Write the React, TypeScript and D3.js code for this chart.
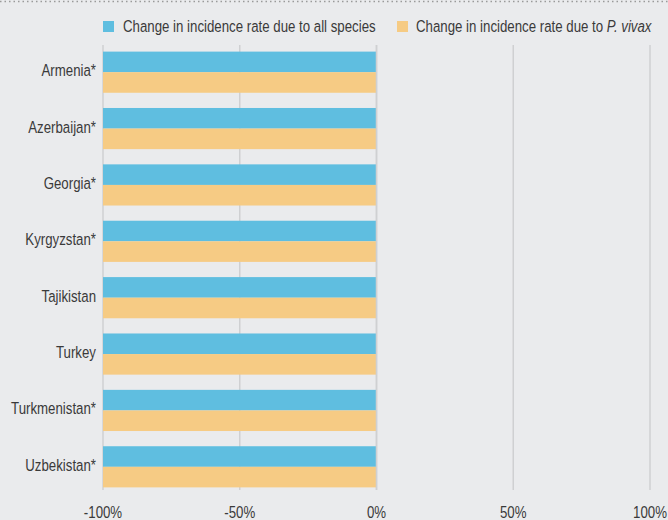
import React from "react";
import * as d3 from "d3";

const countries = [
  "Armenia*",
  "Azerbaijan*",
  "Georgia*",
  "Kyrgyzstan*",
  "Tajikistan",
  "Turkey",
  "Turkmenistan*",
  "Uzbekistan*",
];
const allSpecies = [-100, -100, -100, -100, -100, -100, -100, -100];
const pVivax = [-100, -100, -100, -100, -100, -100, -100, -100];
const xTicks = [-100, -50, 0, 50, 100];

const W = 668;
const H = 520;
const FONT = "'Liberation Sans', Arial, sans-serif";
const FS = 17;
const SQUEEZE = 0.78; // horizontal compression for a condensed look
const BLUE = "#5fbee0";
const ORANGE = "#f6cb84";
const GRID = "#cfd0d2";
const TEXT = "#3a3a3a";

type TxtProps = {
  x: number;
  y: number;
  anchor?: "start" | "middle" | "end";
  dy?: string;
  children: React.ReactNode;
};

function Txt({ x, y, anchor = "start", dy, children }: TxtProps) {
  return (
    <text
      transform={`translate(${x},${y}) scale(${SQUEEZE},1)`}
      textAnchor={anchor}
      dy={dy}
      fontFamily={FONT}
      fontSize={FS}
      fill={TEXT}
    >
      {children}
    </text>
  );
}

export default function App() {
  const x = d3.scaleLinear().domain([-100, 100]).range([103, 650]);
  const y = d3.scaleBand<string>().domain(countries).range([44, 495]).paddingInner(0.27).paddingOuter(0.135);
  const half = y.bandwidth() / 2;
  const gridTop = 45;
  const gridBottom = 490;

  return (
    <svg width={W} height={H} style={{ position: "absolute", left: 0, top: 0, background: "#eaebed" }}>
      <rect width={W} height={H} fill="#eaebed" />
      <line x1={0} x2={W} y1={1.5} y2={1.5} stroke="#9a9a9a" strokeWidth={1.5} strokeDasharray="1.5 3" />

      {/* legend */}
      <rect x={103} y={21} width={11} height={11} fill={BLUE} />
      <Txt x={123} y={32}>Change in incidence rate due to all species</Txt>
      <rect x={397} y={21} width={11} height={11} fill={ORANGE} />
      <Txt x={416} y={32}>
        Change in incidence rate due to <tspan fontStyle="italic">P. vivax</tspan>
      </Txt>

      {/* gridlines */}
      {xTicks.map((t) => (
        <line key={t} x1={x(t)} x2={x(t)} y1={gridTop} y2={gridBottom} stroke={GRID} strokeWidth={1.5} />
      ))}

      {/* bars */}
      {countries.map((c, i) => {
        const y0 = y(c)!;
        return (
          <g key={c}>
            <rect
              x={x(Math.min(0, allSpecies[i]))}
              y={y0}
              width={Math.abs(x(allSpecies[i]) - x(0))}
              height={half}
              fill={BLUE}
            />
            <rect
              x={x(Math.min(0, pVivax[i]))}
              y={y0 + half}
              width={Math.abs(x(pVivax[i]) - x(0))}
              height={half}
              fill={ORANGE}
            />
            <Txt x={96} y={y0 + half - 2} anchor="end" dy="0.35em">
              {c}
            </Txt>
          </g>
        );
      })}

      {/* zero line over bars */}
      <line x1={x(0)} x2={x(0)} y1={gridTop} y2={gridBottom} stroke={GRID} strokeWidth={1.5} />

      {/* x tick labels */}
      {xTicks.map((t) => (
        <Txt key={t} x={x(t)} y={518} anchor="middle">
          {`${t}%`}
        </Txt>
      ))}
    </svg>
  );
}
